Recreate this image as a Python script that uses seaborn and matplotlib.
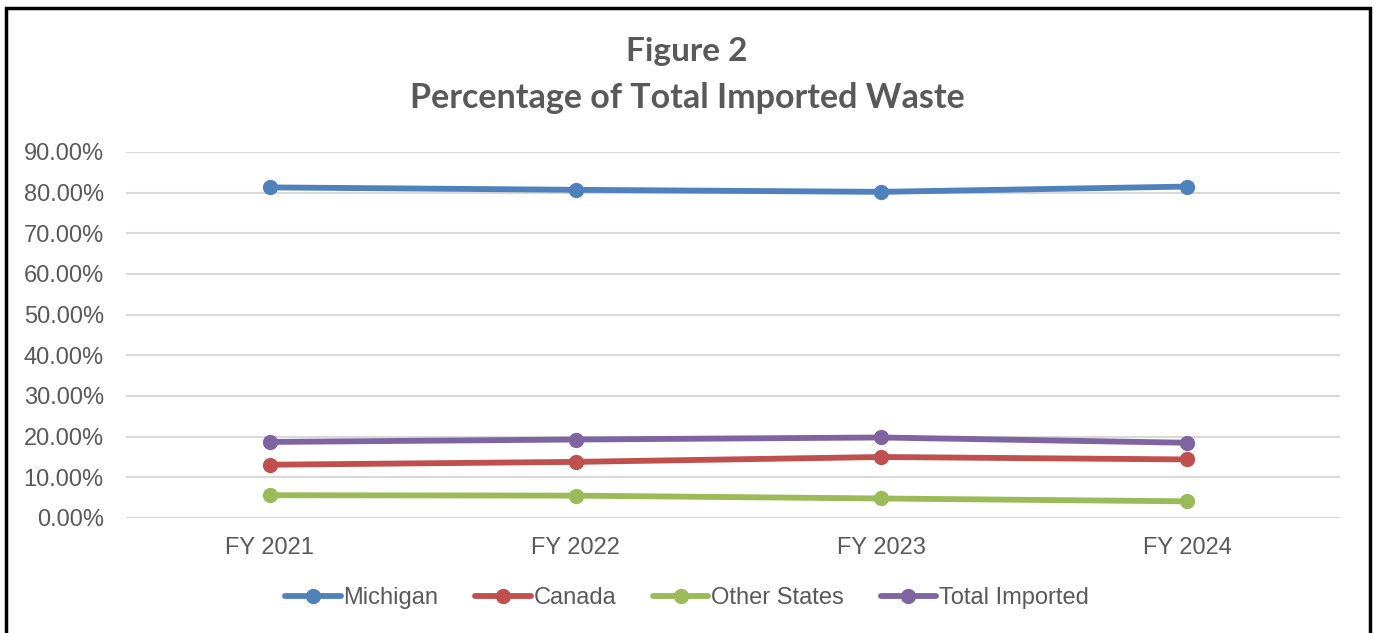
import numpy as np
import matplotlib
matplotlib.use("Agg")
import matplotlib.pyplot as plt
import pandas as pd
import seaborn as sns
from matplotlib.patches import Rectangle
from matplotlib.ticker import FuncFormatter

years = ['FY 2021', 'FY 2022', 'FY 2023', 'FY 2024']
michigan = [0.813, 0.807, 0.802, 0.815]
canada = [0.131, 0.138, 0.150, 0.144]
other_states = [0.056, 0.055, 0.048, 0.041]
total_imported = [0.187, 0.193, 0.198, 0.185]

series_names = ['Michigan', 'Canada', 'Other States', 'Total Imported']
colors = ['#4F81BD', '#C0504D', '#9BBB59', '#8064A2']

df = pd.DataFrame({
    'year': years * 4,
    'series': [s for s in series_names for y in years],
    'pct': michigan + canada + other_states + total_imported,
})

sns.set_theme(style="white")
plt.rcParams['font.family'] = ['Liberation Sans', 'DejaVu Sans']

fig = plt.figure(figsize=(13.74, 6.33), dpi=100)
ax = fig.add_axes([126/1374, 1 - 518/633, (1340-126)/1374, (518-152)/633])

sns.lineplot(data=df, x='year', y='pct', hue='series', palette=colors,
             marker='o', markersize=11, markeredgewidth=0, linewidth=4.2,
             sort=False, ax=ax)

ax.set_ylim(0, 0.9)
ax.set_xlim(-0.47, 3.5)
ax.set_yticks(np.arange(0, 0.91, 0.1))
ax.yaxis.set_major_formatter(FuncFormatter(lambda v, p: '%.2f%%' % (v*100)))
ax.grid(axis='y', color='#D9D9D9', linewidth=1.5)
ax.set_axisbelow(True)
for s in ax.spines.values():
    s.set_visible(False)
ax.tick_params(axis='both', length=0, labelsize=17, colors='#595959')
ax.tick_params(axis='x', pad=14)
ax.tick_params(axis='y', pad=16)
ax.set_xlabel('')
ax.set_ylabel('')

handles, labels = ax.get_legend_handles_labels()
ax.legend(handles, labels, loc='center', bbox_to_anchor=(0.5, 1 - 598/633),
          bbox_transform=fig.transFigure, ncol=4, frameon=False,
          fontsize=17, handlelength=2.35, handletextpad=0.12, columnspacing=1.55,
          labelcolor='#595959')

fig.text(0.5, 1 - 52/633, 'Figure 2', ha='center', va='center',
         fontsize=24, fontweight='bold', color='#595959', family=['Lato', 'DejaVu Sans'])
fig.text(0.5, 1 - 98/633, 'Percentage of Total Imported Waste', ha='center', va='center',
         fontsize=24.5, fontweight='bold', color='#595959', family=['Lato', 'DejaVu Sans'])

fig.patches.append(Rectangle((6/1374, -0.01), 1364/1374, 1 - 8/633 + 0.01,
                             transform=fig.transFigure, fill=False,
                             edgecolor='black', linewidth=2.5))

fig.savefig('out.png', dpi=100)
